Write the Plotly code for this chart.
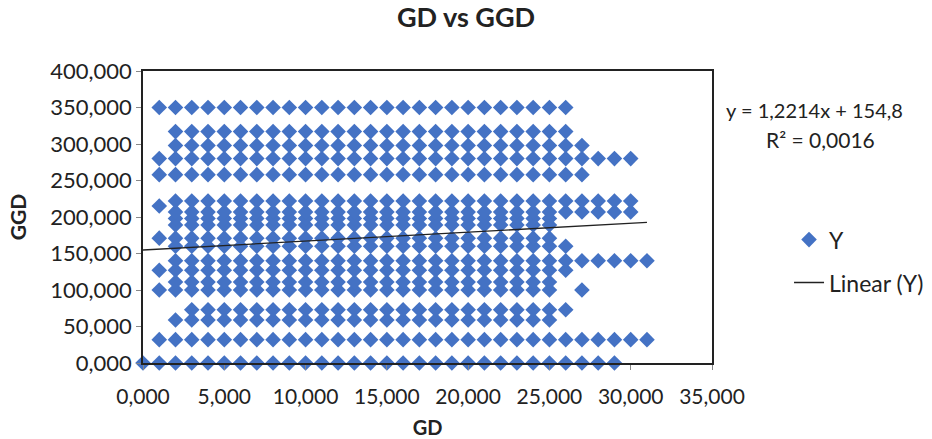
import plotly.graph_objects as go

# GD (thousands) columns and GGD levels
# each row: (GGD level, first GD column, last GD column, extra GD columns)
rows = [
    (0, 0, 29, []),
    (32, 1, 31, []),
    (59, 2, 25, []),
    (73, 3, 26, []),
    (100, 1, 25, [27]),
    (111, 2, 25, []),
    (127, 1, 26, []),
    (140, 2, 31, []),
    (160, 2, 26, []),
    (171, 1, 25, []),
    (189, 2, 25, []),
    (198, 2, 25, []),
    (207, 2, 30, []),
    (215, 1, 1, []),
    (222, 2, 30, []),
    (258, 1, 27, []),
    (280, 1, 30, []),
    (298, 2, 27, []),
    (317, 2, 26, []),
    (350, 1, 26, []),
]

slope = 1.2214
intercept = 154.8
r2 = "0,0016"
trend_x = [0, 31]

gd, ggd = [], []
for level, a, b, extra in rows:
    cols = list(range(a, b + 1)) + extra
    gd += cols
    ggd += [level] * len(cols)

FONT = "Lato"
FS = 20
fig = go.Figure()
fig.add_trace(go.Scatter(
    x=gd, y=ggd, mode="markers", name="Y",
    marker=dict(symbol="diamond", size=12, color="#4472C4"),
    cliponaxis=False, legendgroup="a",
))
fig.add_trace(go.Scatter(
    x=trend_x, y=[slope * v + intercept for v in trend_x], mode="lines",
    name="Linear (Y)", line=dict(color="#222222", width=1.3),
    legendgroup="b",
))

fig.update_layout(
    width=932, height=439,
    margin=dict(l=143, r=220, t=71, b=76, autoexpand=False),
    paper_bgcolor="white", plot_bgcolor="white",
    separators=",.",
    font=dict(family=FONT, size=FS, color="#222222"),
    title=dict(text="<b>GD vs GGD</b>", x=0.5, xanchor="center",
               yref="container", y=0.96, yanchor="middle", font=dict(size=27)),
    xaxis=dict(range=[0, 35], dtick=5, tick0=0, tickformat=".3f",
               showline=True, linecolor="#222222", linewidth=1.5, mirror=True,
               ticks="outside", ticklen=5, tickcolor="#888888",
               ticklabelstandoff=9, tickfont=dict(size=21),
               showgrid=False, zeroline=False, automargin=False,
               title=dict(text="<b>GD</b>", font=dict(size=FS), standoff=24)),
    yaxis=dict(range=[0, 400], dtick=50, tick0=0, tickformat=".3f",
               showline=True, linecolor="#222222", linewidth=1.5, mirror=True,
               ticks="outside", ticklen=5, tickcolor="#888888",
               tickfont=dict(size=22),
               showgrid=False, zeroline=False, automargin=False,
               title=dict(text="<b>GGD</b>", font=dict(size=21), standoff=18)),
    legend=dict(xref="container", x=0.8466, xanchor="left",
                y=0.496, yanchor="top",
                traceorder="grouped", tracegroupgap=10,
                font=dict(size=23), bgcolor="rgba(0,0,0,0)"),
    annotations=[
        dict(text="y = 1,2214x + 154,8", xref="paper", yref="paper",
             x=1.18, y=0.866, xanchor="center", yanchor="middle",
             showarrow=False, font=dict(size=FS)),
        dict(text="R² = " + r2, xref="paper", yref="paper",
             x=1.19, y=0.764, xanchor="center", yanchor="middle",
             showarrow=False, font=dict(size=21)),
    ],
)
fig.write_html("out.html", config={"displayModeBar": False},
               post_script="document.body.style.margin='0px';")
